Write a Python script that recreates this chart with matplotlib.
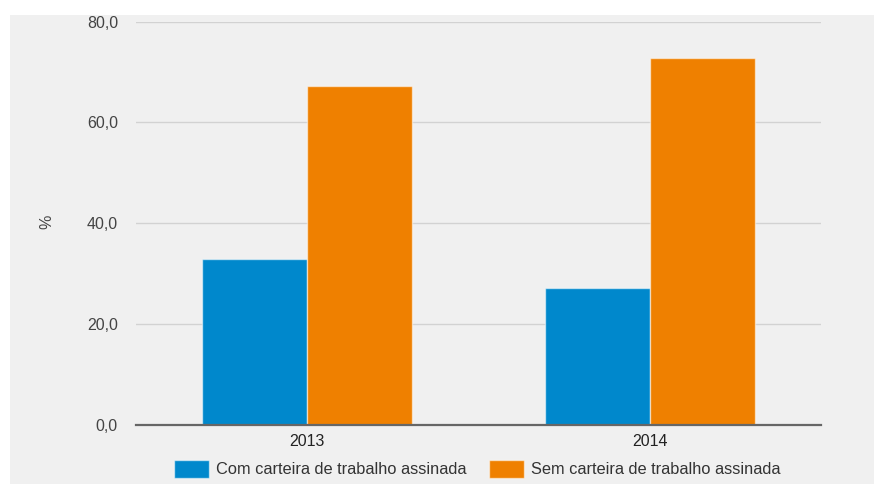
import matplotlib.pyplot as plt
from matplotlib.patches import Rectangle
import numpy as np

anos = ["2013", "2014"]
com_carteira = [32.8, 27.1]
sem_carteira = [67.2, 72.7]
series = ["Com carteira de trabalho assinada", "Sem carteira de trabalho assinada"]
yticks = [0, 20, 40, 60, 80]

plt.rcParams['font.family'] = ['Liberation Sans', 'DejaVu Sans']
FS = 11.5

W, H = 875, 484
fig = plt.figure(figsize=(W / 100, H / 100), dpi=100, facecolor='white')

# gray panel behind the chart
fig.patches.append(Rectangle((10 / W, 0), (874 - 10) / W, (H - 15) / H,
                             transform=fig.transFigure, facecolor='#f0f0f0',
                             edgecolor='none', zorder=-10))

ax = fig.add_axes([136 / W, (H - 424.7) / H, (821 - 136) / W, (424.7 - 21.7) / H])
ax.set_facecolor('none')

x = np.arange(len(anos))
w = 0.307
ax.bar(x - w / 2, com_carteira, w, color='#0088cc', edgecolor=(1, 1, 1, 0.55),
       linewidth=1, label=series[0], zorder=3)
ax.bar(x + w / 2, sem_carteira, w, color='#ef8000', edgecolor=(1, 1, 1, 0.55),
       linewidth=1, label=series[1], zorder=3)

ax.set_xlim(-0.5, 1.5)
ax.set_ylim(0, 80)
ax.set_yticks(yticks)
ax.set_yticklabels([f"{v:.1f}".replace('.', ',') for v in yticks])
ax.set_xticks(x)
ax.set_xticklabels(anos)
ax.tick_params(axis='y', length=0, pad=13, labelsize=FS, labelcolor='#444444')
ax.tick_params(axis='x', length=0, pad=7, labelsize=FS, labelcolor='#222222')

for s in ax.spines.values():
    s.set_visible(False)
ax.grid(axis='y', color='#d2d2d2', linewidth=1, zorder=1)
ax.set_axisbelow(True)
ax.axhline(0, color='#666666', linewidth=1.6, zorder=4, clip_on=False)

fig.text(47 / W, 1 - 222 / H, '%', rotation=90, ha='center', va='center',
         fontsize=FS, color='#444444')

fig.legend(loc='center', bbox_to_anchor=(477.5 / W, 1 - 469 / H), ncol=2,
           frameon=False, fontsize=11.75, handlelength=2.15, handleheight=1.25,
           handletextpad=0.45, columnspacing=1.35, labelcolor='#333333')

fig.savefig('out.png', dpi=100, facecolor='white')
